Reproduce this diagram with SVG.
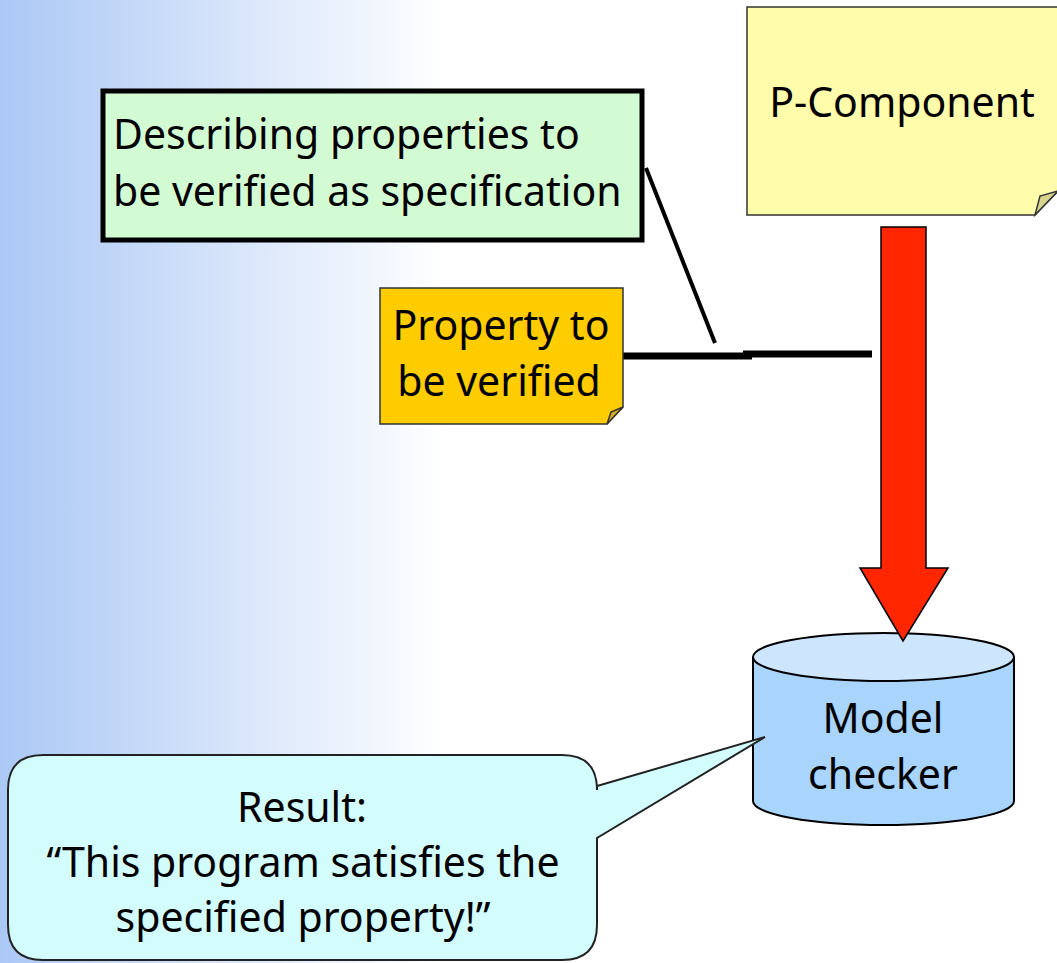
<svg xmlns="http://www.w3.org/2000/svg" width="1057" height="963" viewBox="0 0 1057 963">
  <defs>
    <linearGradient id="bg" x1="0" y1="0" x2="1057" y2="0" gradientUnits="userSpaceOnUse">
      <stop offset="0" stop-color="#abc8f5"/>
      <stop offset="0.42" stop-color="#ffffff"/>
      <stop offset="1" stop-color="#ffffff"/>
    </linearGradient>
    <style>
      text { font-family: "Noto Sans", "Open Sans", "Liberation Sans", sans-serif; font-size: 41px; fill: #000; }
      .mid { text-anchor: middle; }
      .note { stroke: #333; stroke-width: 1.5; }
      .link { stroke: #000; fill: none; }
    </style>
  </defs>

  <!-- slide background -->
  <rect x="0" y="0" width="1057" height="963" fill="url(#bg)"/>

  <!-- connectors -->
  <g id="connectors">
    <line class="link" x1="646" y1="168" x2="715" y2="343" stroke-width="4"/>
    <line class="link" x1="623" y1="356" x2="752" y2="356" stroke-width="7"/>
    <line class="link" x1="743" y1="354" x2="872" y2="354" stroke-width="7"/>
  </g>

  <!-- specification note -->
  <g id="spec-note">
    <rect x="103" y="91" width="539" height="149" fill="#d3fbd3" stroke="#000" stroke-width="5"/>
    <text x="113" y="149">Describing properties to</text>
    <text x="113" y="206">be verified as specification</text>
  </g>

  <!-- P-Component note -->
  <g id="p-component">
    <path class="note" d="M747,7 H1058 V191 L1035,215 H747 Z" fill="#fffcab"/>
    <path class="note" d="M1035,215 L1040,196 L1058,191 Z" fill="#d8d48e"/>
    <text class="mid" x="902" y="117">P-Component</text>
  </g>

  <!-- property note -->
  <g id="property">
    <path class="note" d="M380,288 H623 V407 L607,424 H380 Z" fill="#ffcc00"/>
    <path class="note" d="M607,424 L611,412 L623,407 Z" fill="#d8ab1c"/>
    <text class="mid" x="501" y="340">Property to</text>
    <text class="mid" x="499" y="396">be verified</text>
  </g>

  <!-- model checker -->
  <g id="model-checker">
    <path d="M753,657 V801 A130.5,24 0 0 0 1014,801 V657" fill="#a9d4fc" stroke="#000" stroke-width="2"/>
    <ellipse cx="883.5" cy="657" rx="130.5" ry="24" fill="#cde6fe" stroke="#000" stroke-width="2"/>
    <text class="mid" x="883" y="733">Model</text>
    <text class="mid" x="883" y="789">checker</text>
  </g>

  <!-- flow arrow into the checker, drawn over the cylinder top -->
  <g id="flow-arrow">
    <path d="M881,227 H926 V568 H948 L903,641 L860,568 H881 Z" fill="#ff2600" stroke="#000" stroke-width="1.5" stroke-linejoin="miter"/>
  </g>

  <!-- result callout -->
  <g id="result">
    <path d="M43,755 H562 Q597,755 597,790 V786 L765,737 L597,838 V925 Q597,960 562,960 H43 Q8,960 8,925 V790 Q8,755 43,755 Z" fill="#d3fcfd" stroke="#222" stroke-width="2" stroke-linejoin="miter"/>
    <text class="mid" x="302" y="822">Result:</text>
    <text class="mid" x="303" y="877">“This program satisfies the</text>
    <text class="mid" x="303" y="932">specified property!”</text>
  </g>
</svg>
